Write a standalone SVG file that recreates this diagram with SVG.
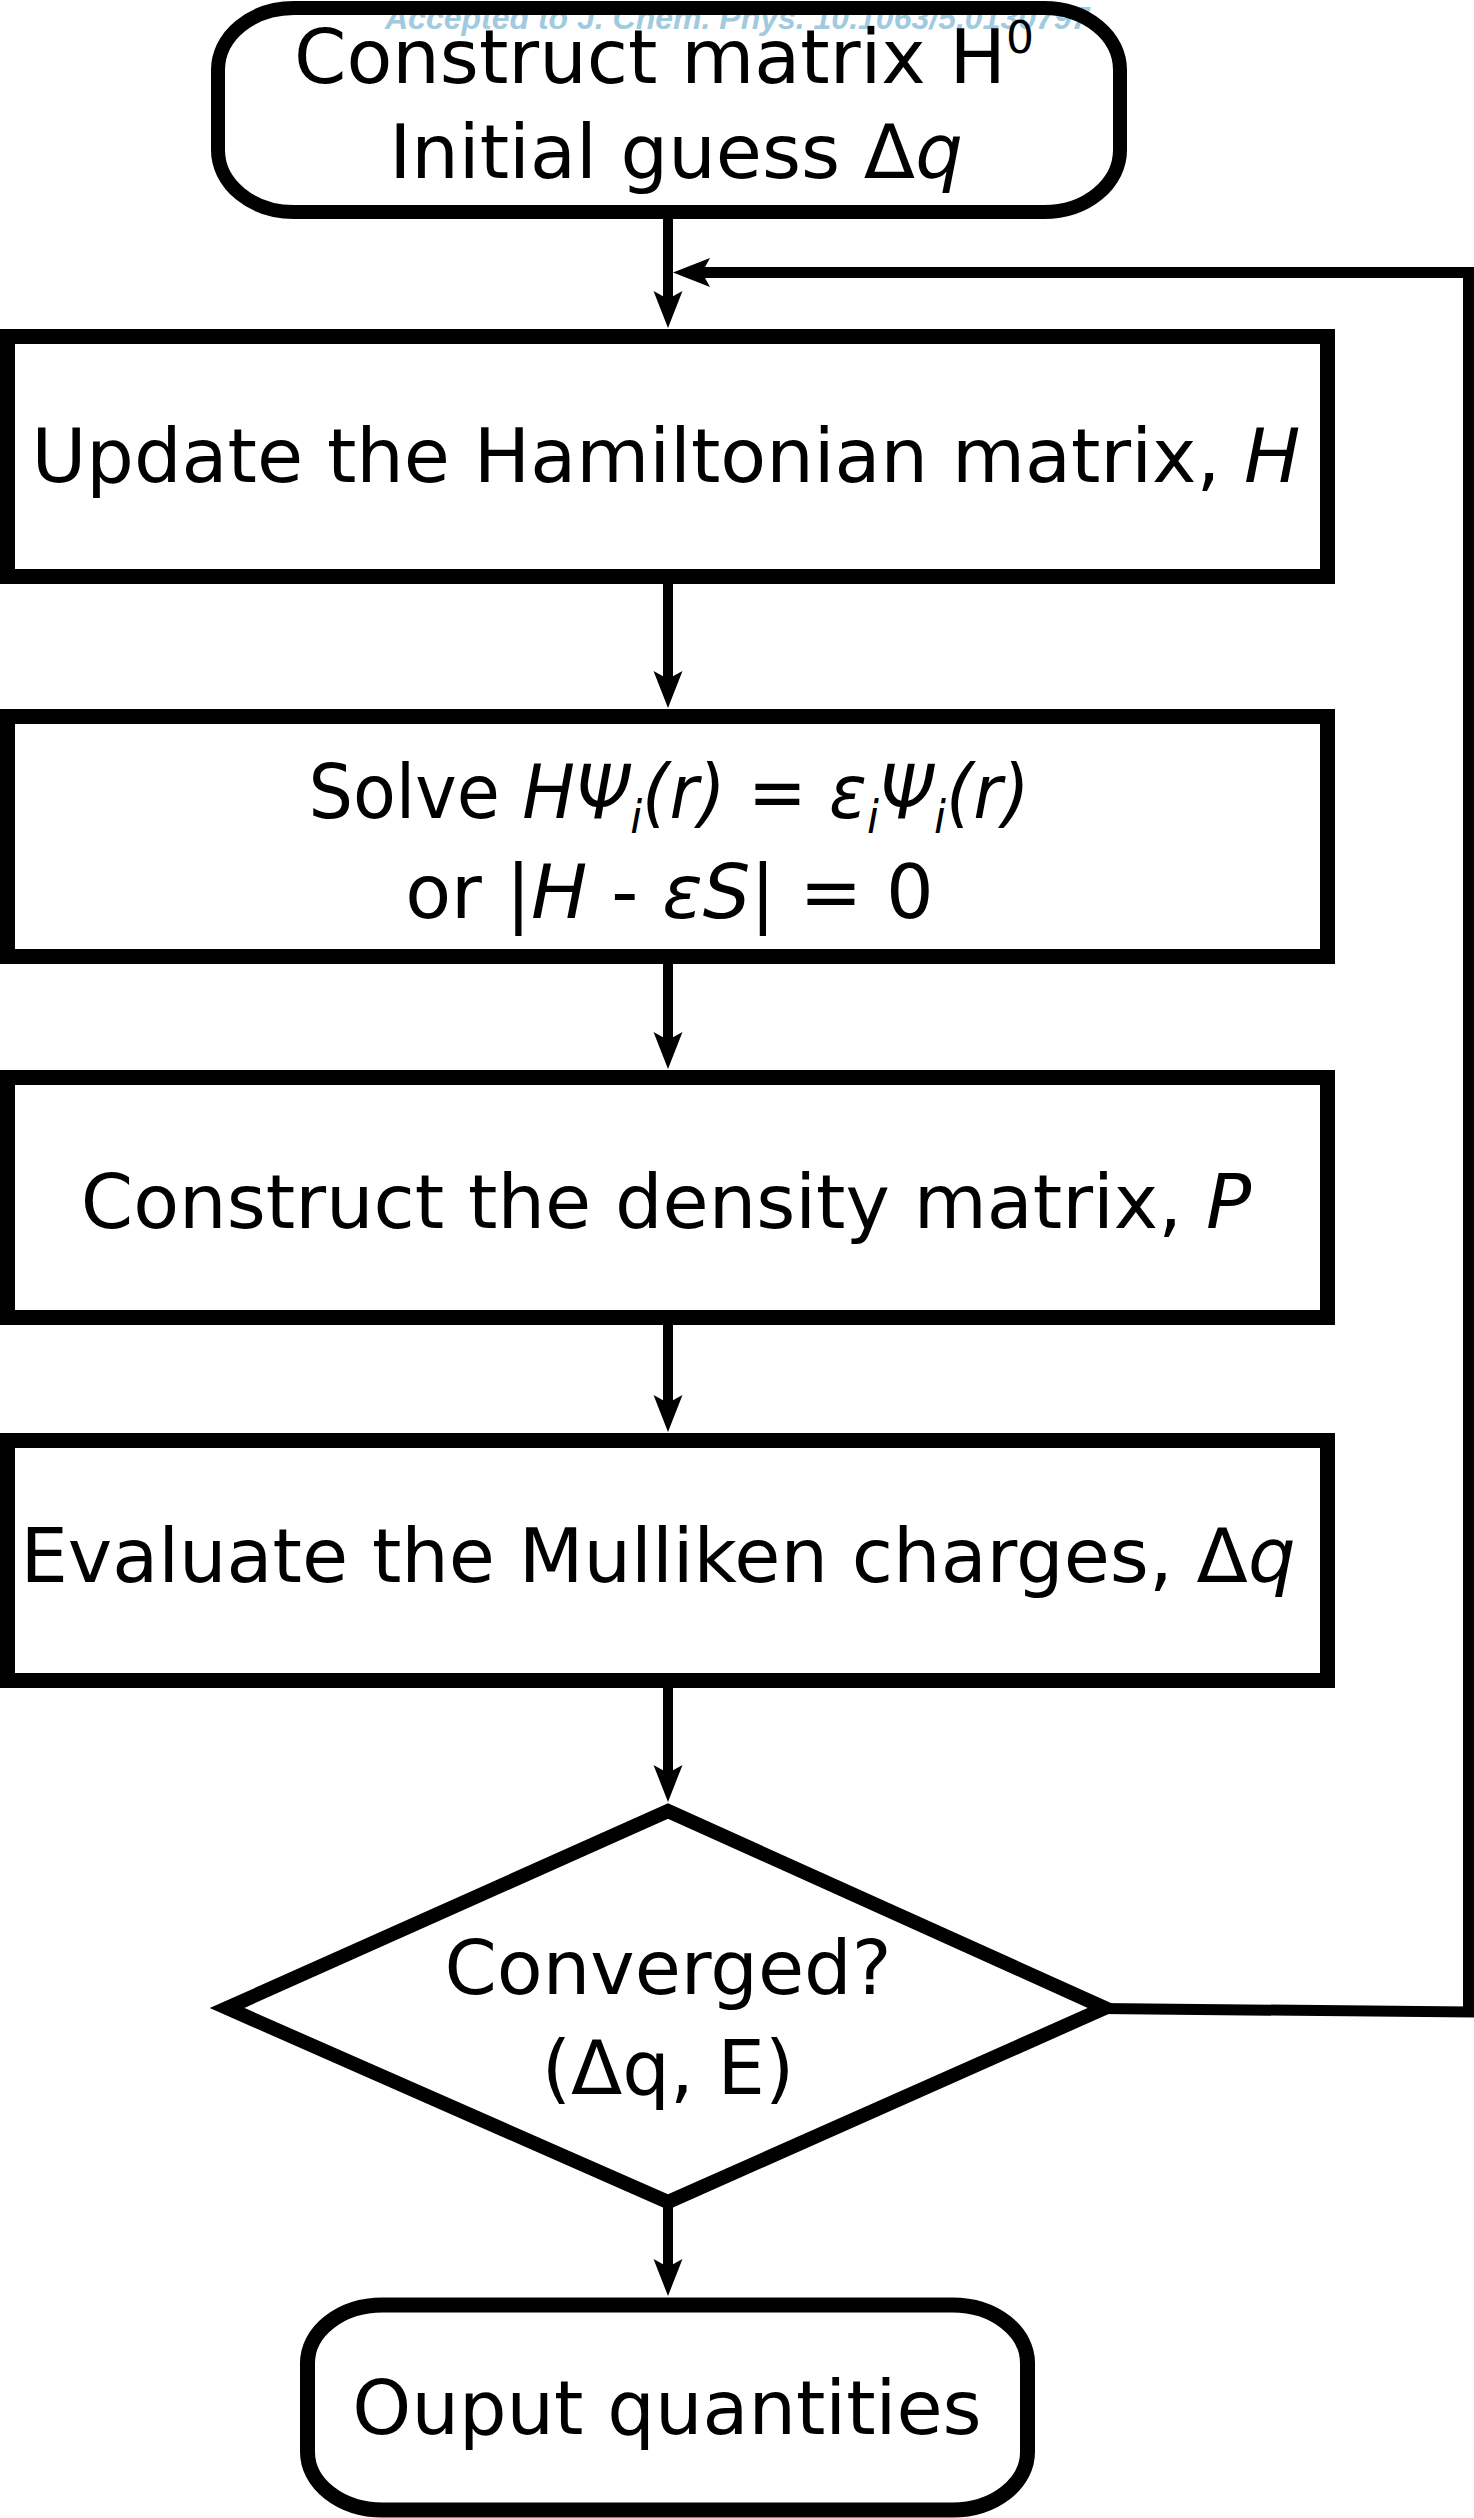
<svg xmlns="http://www.w3.org/2000/svg" width="1474" height="2518" viewBox="0 0 1474 2518">
  <style>
    .box { fill: #ffffff; stroke: #000000; stroke-width: 15; }
    .term { fill: none; stroke: #000000; stroke-width: 14; }
    .dec { fill: #ffffff; stroke: #000000; stroke-width: 14; stroke-linejoin: miter; }
    .lbl { font-family: "DejaVu Sans", "Noto Sans", sans-serif; font-size: 75px; fill: #000000; text-anchor: middle; }
    .it { font-style: italic; }
    .sub { font-size: 46px; font-style: italic; }
    .conn { fill: none; stroke: #000000; stroke-width: 10; }
    .loop { fill: none; stroke: #000000; stroke-width: 11; stroke-linejoin: miter; }
    .wm { font-family: "Liberation Sans", Arial, sans-serif; font-size: 32px; font-weight: bold; font-style: italic; fill: #9fcae0; }
  </style>
  <defs>
    <marker id="arrow" markerUnits="userSpaceOnUse" viewBox="-40 -17 42 34" markerWidth="42" markerHeight="34" refX="-24" refY="0" orient="auto">
      <path d="M0,0 L-37,-14.5 L-29,0 L-37,14.5 Z" fill="#000000"/>
    </marker>
  </defs>

  <rect width="1474" height="2518" fill="#ffffff"/>

  <!-- journal stamp at the top edge, partly under the start box outline -->
  <text class="wm" x="385" y="29">Accepted to J. Chem. Phys. 10.1063/5.0130797</text>

  <!-- connectors -->
  <g id="connectors">
    <path class="conn" d="M668,219 L668,304" marker-end="url(#arrow)"/>
    <path class="conn" d="M668,584 L668,684" marker-end="url(#arrow)"/>
    <path class="conn" d="M668,964 L668,1045" marker-end="url(#arrow)"/>
    <path class="conn" d="M668,1325 L668,1408" marker-end="url(#arrow)"/>
    <path class="conn" d="M668,1688 L668,1778" marker-end="url(#arrow)"/>
    <path class="conn" d="M668,2205 L668,2272" marker-end="url(#arrow)"/>
    <path class="loop" d="M1100,2008.5 L1468.5,2012 L1468.5,272.5 L697,272.5" marker-end="url(#arrow)"/>
  </g>

  <!-- start: construct H0 and initial charges -->
  <g id="start">
    <rect class="term" x="218" y="8" width="902" height="204" rx="76" ry="62"/>
    <text class="lbl" x="664" y="83">Construct matrix H<tspan font-size="44" dy="-30">0</tspan></text>
    <text class="lbl" x="676" y="178">Initial guess Δ<tspan class="it">q</tspan></text>
  </g>

  <!-- step 1 -->
  <g id="update-h">
    <rect class="box" x="7.5" y="336.5" width="1320" height="240"/>
    <text class="lbl" x="666" y="482">Update the Hamiltonian matrix, <tspan class="it">H</tspan></text>
  </g>

  <!-- step 2: eigenvalue problem; first line set slightly narrower -->
  <g id="solve">
    <rect class="box" x="7.5" y="716.5" width="1320" height="240"/>
    <text class="lbl" x="669" y="818" transform="translate(669 0) scale(0.935 1) translate(-669 0)">Solve <tspan class="it">HΨ</tspan><tspan class="sub" dy="15">i</tspan><tspan class="it" dy="-15">(r)</tspan> = <tspan class="it">ε</tspan><tspan class="sub" dy="15">i</tspan><tspan class="it" dy="-15">Ψ</tspan><tspan class="sub" dy="15">i</tspan><tspan class="it" dy="-15">(r)</tspan></text>
    <text class="lbl" x="669.5" y="918">or |<tspan class="it">H</tspan> - <tspan class="it">εS</tspan>| = 0</text>
  </g>

  <!-- step 3 -->
  <g id="density">
    <rect class="box" x="7.5" y="1077.5" width="1320" height="240"/>
    <text class="lbl" x="666" y="1228">Construct the density matrix, <tspan class="it">P</tspan></text>
  </g>

  <!-- step 4 -->
  <g id="mulliken">
    <rect class="box" x="7.5" y="1440.5" width="1320" height="240"/>
    <text class="lbl" x="658" y="1582" font-size="74">Evaluate the Mulliken charges, Δ<tspan class="it">q</tspan></text>
  </g>

  <!-- convergence test -->
  <g id="converged">
    <polygon class="dec" points="668,1811 1105,2008 668,2202 227,2008"/>
    <text class="lbl" x="668" y="1994" font-size="83">Converged?</text>
    <text class="lbl" x="668" y="2094" font-size="83">(Δq, E)</text>
  </g>

  <!-- end -->
  <g id="output">
    <rect class="term" x="307.5" y="2305" width="720" height="205" rx="75" ry="58" style="stroke-width:15"/>
    <text class="lbl" x="667" y="2434" font-size="80">Ouput quantities</text>
  </g>
</svg>
